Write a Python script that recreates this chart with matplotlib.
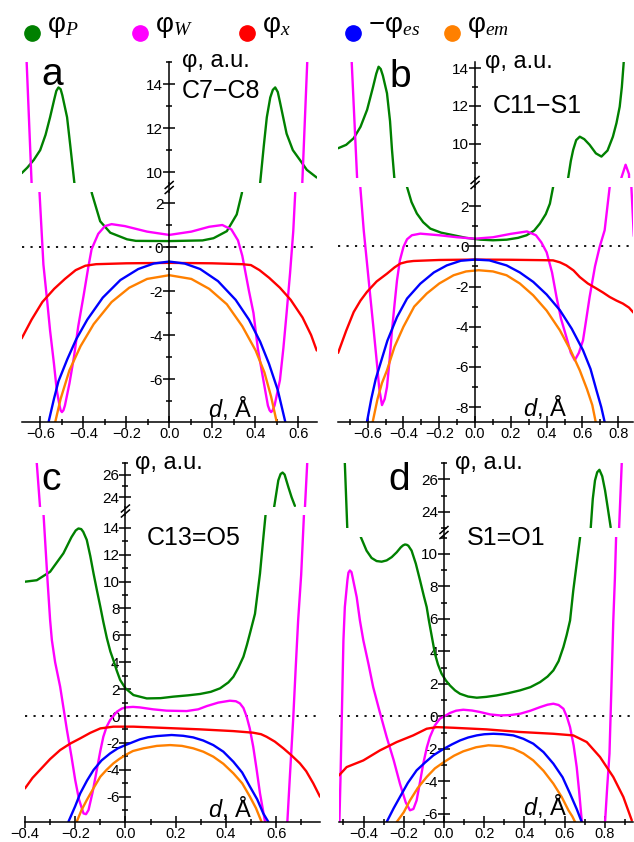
import matplotlib
matplotlib.use("Agg")
import matplotlib.pyplot as plt
from matplotlib.lines import Line2D
from matplotlib.ticker import MultipleLocator, FuncFormatter

plt.rcParams["font.family"] = ["Liberation Sans", "DejaVu Sans"]
plt.rcParams["mathtext.fontset"] = "custom"
plt.rcParams["mathtext.rm"] = "Liberation Sans"
plt.rcParams["mathtext.it"] = "Liberation Serif:italic"
plt.rcParams["mathtext.sf"] = "Liberation Sans:italic"

# ---------------- series names and colours ----------------
series_labels = [r"$\mathrm{φ}_{P}$", r"$\mathrm{φ}_{W}$", r"$\mathrm{φ}_{x}$",
                 r"$-\mathrm{φ}_{es}$", r"$\mathrm{φ}_{em}$"]
series_colors = ["#008000", "#ff00ff", "#ff0000", "#0000ff", "#ff8000"]
bond_names = ["C7\u2212C8", "C11\u2212S1", "C13=O5", "S1=O1"]
panel_letters = ["a", "b", "c", "d"]

# ---------------- panel a : C7-C8 ----------------
a_P_d = [-0.686, -0.66, -0.63, -0.60, -0.575, -0.554, -0.535, -0.525, -0.515, -0.505, -0.497,
         -0.475, -0.46, -0.441, -0.40, -0.36, -0.321, -0.274, -0.196, -0.155, 0.0, 0.155, 0.206,
         0.268, 0.314, 0.338, 0.38, 0.423, 0.44, 0.454, 0.47, 0.482, 0.493, 0.505, 0.515, 0.546,
         0.575, 0.608, 0.64, 0.686]
a_P_phi = [9.95, 10.2, 10.55, 11.0, 11.7, 12.5, 13.3, 13.7, 13.86, 13.78, 13.5,
           12.5, 11.2, 9.5, 6.0, 2.45, 1.17, 0.65, 0.35, 0.28, 0.27, 0.30, 0.40,
           0.72, 1.48, 2.45, 6.0, 9.5, 11.2, 12.5, 13.4, 13.75, 13.86, 13.65, 13.2, 11.75,
           11.0, 10.55, 10.1, 9.75]
a_W_d = [-0.665, -0.64, -0.603, -0.585, -0.567, -0.554, -0.536, -0.523, -0.51, -0.505, -0.499,
         -0.492, -0.485, -0.464, -0.443, -0.423, -0.398, -0.376, -0.361, -0.33, -0.299, -0.268,
         -0.206, -0.103, 0.0, 0.103, 0.186, 0.247, 0.289, 0.32, 0.34, 0.371, 0.392, 0.412,
         0.438, 0.459, 0.467, 0.474, 0.481, 0.49, 0.515, 0.531, 0.546, 0.562, 0.577, 0.586,
         0.619, 0.644]
a_W_phi = [15.5, 9.5, 2.45, -0.8, -2.5, -3.8, -5.3, -6.5, -7.2, -7.42, -7.5,
           -7.42, -7.2, -6.2, -5.0, -3.6, -2.2, -0.9, -0.1, 0.6, 0.95, 1.04,
           0.95, 0.7, 0.55, 0.7, 0.92, 1.0, 0.8, 0.3, -0.4, -2.0, -3.0, -4.6,
           -6.05, -7.2, -7.42, -7.5, -7.42, -7.2, -6.05, -4.6, -3.0, -1.2, 0.72, 2.45,
           9.5, 15.5]
a_x_d = [-0.686, -0.64, -0.59, -0.535, -0.485, -0.435, -0.39, -0.34, -0.2, 0.0, 0.2, 0.34,
         0.38, 0.42, 0.465, 0.515, 0.565, 0.62, 0.66, 0.686]
a_x_phi = [-4.15, -3.3, -2.5, -1.9, -1.45, -1.05, -0.85, -0.78, -0.74, -0.72, -0.74, -0.78,
           -0.82, -1.05, -1.4, -1.85, -2.4, -3.2, -4.0, -4.7]
a_es_d = [-0.561, -0.536, -0.515, -0.474, -0.433, -0.381, -0.309, -0.227, -0.144, -0.072, 0.0,
          0.072, 0.144, 0.227, 0.309, 0.371, 0.423, 0.464, 0.505, 0.54]
a_es_phi = [-7.95, -6.9, -6.1, -5.1, -4.2, -3.3, -2.3, -1.5, -1.0, -0.75, -0.66,
            -0.75, -1.0, -1.55, -2.4, -3.3, -4.3, -5.3, -6.5, -7.95]
a_em_d = [-0.53, -0.505, -0.464, -0.412, -0.351, -0.268, -0.186, -0.103, 0.0, 0.103, 0.186,
          0.268, 0.34, 0.402, 0.443, 0.474, 0.50]
a_em_phi = [-7.95, -6.9, -5.6, -4.5, -3.5, -2.5, -1.85, -1.45, -1.28, -1.45, -1.9,
            -2.6, -3.6, -4.7, -5.7, -6.8, -7.95]

# ---------------- panel b : C11-S1 ----------------
b_P_d = [-0.765, -0.72, -0.678, -0.64, -0.603, -0.57, -0.552, -0.539, -0.527, -0.515, -0.492,
         -0.475, -0.464, -0.451, -0.44, -0.39, -0.38, -0.355, -0.325, -0.29, -0.25, -0.19, -0.12,
         -0.05, 0.03, 0.10, 0.177, 0.24, 0.288, 0.33, 0.362, 0.395, 0.418, 0.436, 0.45, 0.51,
         0.52, 0.535, 0.548, 0.565, 0.585, 0.61, 0.64, 0.675, 0.706, 0.74, 0.77, 0.79, 0.808,
         0.82, 0.83, 0.835]
b_P_phi = [9.77, 9.95, 10.3, 10.9, 11.8, 13.0, 13.7, 14.07, 13.95, 13.6, 12.67,
           11.2, 9.68, 8.2, 7.0, 3.5, 2.95, 2.2, 1.63, 1.2, 0.88, 0.68, 0.55,
           0.42, 0.33, 0.30, 0.33, 0.42, 0.55, 0.78, 1.13, 1.6, 2.12, 2.95, 3.6, 7.5,
           8.2, 9.1, 9.68, 10.2, 10.38, 10.25, 9.95, 9.5, 9.33, 9.65, 10.38, 11.1, 11.96,
           13.0, 14.25, 15.0]
b_W_d = [-0.69, -0.659, -0.641, -0.622, -0.603, -0.585, -0.566, -0.548, -0.535, -0.52, -0.505,
         -0.492, -0.478, -0.464, -0.45, -0.436, -0.42, -0.40, -0.38, -0.353, -0.306, -0.2, -0.1,
         0.0, 0.1, 0.2, 0.29, 0.34, 0.37, 0.40, 0.43, 0.455, 0.48, 0.51, 0.535, 0.557, 0.58,
         0.603, 0.62, 0.64, 0.67, 0.696, 0.724, 0.752, 0.79, 0.817, 0.841, 0.86, 0.873, 0.887]
b_W_phi = [14.5, 8.2, 2.95, 0.8, -0.9, -2.52, -4.2, -5.84, -7.1, -7.9, -7.6,
           -7.0, -5.7, -4.18, -2.9, -1.69, -0.7, -0.03, 0.35, 0.55, 0.63, 0.55, 0.45,
           0.38, 0.45, 0.62, 0.74, 0.55, 0.2, -0.3, -1.3, -2.52, -3.6, -4.51, -5.3, -5.67, -5.3,
           -4.68, -3.7, -2.52, -1.0, -0.03, 0.8, 2.95, 6.5, 8.2, 8.9, 8.4, 3.0, 0.5]
b_x_d = [-0.765, -0.72, -0.678, -0.64, -0.604, -0.55, -0.492, -0.45, -0.418, -0.38, -0.344,
         -0.2, 0.0, 0.2, 0.38, 0.436, 0.475, 0.51, 0.55, 0.585, 0.63, 0.678, 0.715, 0.752,
         0.79, 0.826, 0.86, 0.885]
b_x_phi = [-5.3, -4.2, -3.27, -2.7, -2.27, -1.75, -1.36, -1.05, -0.86, -0.77, -0.73,
           -0.68, -0.66, -0.67, -0.69, -0.70, -0.8, -0.95, -1.2, -1.53, -1.85, -2.1, -2.3, -2.52,
           -2.7, -2.85, -3.05, -3.3]
b_es_d = [-0.604, -0.58, -0.555, -0.529, -0.49, -0.436, -0.38, -0.306, -0.23, -0.158, -0.08,
          0.0, 0.08, 0.176, 0.25, 0.325, 0.40, 0.474, 0.54, 0.603, 0.645, 0.678, 0.705, 0.724]
b_es_phi = [-8.74, -7.6, -6.6, -5.84, -4.7, -3.52, -2.6, -1.86, -1.3, -0.95, -0.72,
            -0.66, -0.70, -0.95, -1.3, -1.77, -2.4, -3.18, -4.1, -5.17, -6.1, -7.16, -8.0, -8.74]
b_em_d = [-0.572, -0.545, -0.52, -0.492, -0.45, -0.40, -0.34, -0.27, -0.20, -0.12, -0.05,
          0.02, 0.10, 0.176, 0.25, 0.325, 0.40, 0.474, 0.535, 0.585, 0.625, 0.655, 0.674]
b_em_phi = [-8.74, -7.6, -6.8, -6.17, -5.0, -4.0, -3.0, -2.35, -1.85, -1.44, -1.25,
            -1.19, -1.25, -1.44, -1.85, -2.44, -3.2, -4.18, -5.2, -6.17, -7.1, -7.9, -8.74]

# ---------------- panel c : C13=O5 ----------------
c_P_d = [-0.40, -0.353, -0.30, -0.247, -0.215, -0.198, -0.187, -0.176, -0.168, -0.154, -0.14,
         -0.127, -0.113, -0.10, -0.088, -0.074, -0.06, -0.048, -0.035, -0.021, 0.0, 0.032,
         0.085, 0.14, 0.19, 0.25, 0.297, 0.34, 0.377, 0.41, 0.43, 0.45, 0.47, 0.484, 0.496,
         0.516, 0.536, 0.548, 0.558, 0.575, 0.592, 0.609, 0.618, 0.626, 0.634, 0.649, 0.662,
         0.675]
c_P_phi = [9.99, 10.1, 10.73, 12.1, 13.3, 13.8, 13.95, 13.9, 13.7, 13.1, 11.9,
           10.6, 9.3, 8.13, 7.0, 5.8, 4.8, 4.16, 3.4, 2.68, 2.06, 1.56,
           1.31, 1.33, 1.44, 1.54, 1.64, 1.8, 2.06, 2.5, 2.92, 3.6, 4.41, 5.3, 6.15,
           7.6, 10.6, 13.0, 14.94, 19.0, 23.1, 25.5, 26.05, 26.18, 26.0, 24.9, 24.0,
           23.25]
c_W_d = [-0.36, -0.353, -0.34, -0.326, -0.31, -0.30, -0.293, -0.28, -0.26, -0.233, -0.215,
         -0.20, -0.185, -0.167, -0.157, -0.147, -0.13, -0.114, -0.10, -0.088, -0.075, -0.061,
         -0.034, -0.015, 0.0, 0.03, 0.058, 0.11, 0.164, 0.244, 0.29, 0.324, 0.37, 0.416, 0.44,
         0.456, 0.47, 0.483, 0.495, 0.509, 0.522, 0.536, 0.556, 0.60, 0.645, 0.655, 0.668,
         0.678, 0.688, 0.70, 0.711, 0.715, 0.724, 0.726]
c_W_phi = [28.0, 26.98, 23.1, 14.94, 10.0, 7.14, 5.65, 4.0, 2.18, -1.04, -3.0,
           -4.76, -6.2, -7.24, -7.3, -6.99, -5.6, -4.0, -2.6, -1.54, -0.8, -0.3,
           0.32, 0.55, 0.64, 0.68, 0.64, 0.5, 0.40, 0.37, 0.5, 0.74, 1.0, 1.14, 1.1,
           0.94, 0.6, -0.05, -0.9, -2.28, -3.9, -5.75, -7.86, -12.0, -7.86, -4.5, -0.3,
           3.5, 7.14, 10.5, 14.94, 23.1, 26.98, 28.0]
c_x_d = [-0.40, -0.37, -0.34, -0.30, -0.26, -0.22, -0.18, -0.14, -0.10, -0.048, 0.032, 0.164,
         0.297, 0.43, 0.509, 0.54, 0.562, 0.595, 0.629, 0.66, 0.695, 0.72, 0.748, 0.775]
c_x_phi = [-5.38, -4.6, -4.0, -3.2, -2.53, -2.05, -1.66, -1.25, -0.92, -0.79, -0.79, -0.89,
           -0.99, -1.12, -1.24, -1.35, -1.54, -1.9, -2.4, -2.9, -3.52, -4.1, -5.0, -6.0]
c_es_d = [-0.227, -0.20, -0.18, -0.153, -0.127, -0.095, -0.061, -0.03, 0.0, 0.058, 0.09,
          0.125, 0.184, 0.23, 0.27, 0.31, 0.35, 0.39, 0.43, 0.465, 0.496, 0.525, 0.549, 0.569]
c_es_phi = [-7.86, -6.7, -5.75, -4.8, -4.01, -3.3, -2.78, -2.4, -2.16, -1.73, -1.58,
            -1.49, -1.41, -1.47, -1.59, -1.82, -2.16, -2.65, -3.4, -4.2, -5.25, -6.2,
            -7.24, -7.86]
c_em_d = [-0.194, -0.175, -0.154, -0.125, -0.10, -0.075, -0.048, -0.025, 0.0, 0.03, 0.072,
          0.125, 0.178, 0.225, 0.27, 0.31, 0.35, 0.39, 0.43, 0.465, 0.496, 0.52, 0.542]
c_em_phi = [-7.86, -7.0, -6.25, -5.3, -4.51, -4.0, -3.52, -3.2, -2.9, -2.6, -2.4,
            -2.22, -2.16, -2.22, -2.4, -2.65, -3.02, -3.55, -4.26, -5.0, -6.0, -6.85, -7.86]

# ---------------- panel d : S1=O1 ----------------
d_P_d = [-0.495, -0.493, -0.481, -0.46, -0.44, -0.415, -0.385, -0.36, -0.335, -0.31, -0.285,
         -0.26, -0.235, -0.215, -0.204, -0.194, -0.185, -0.177, -0.161, -0.14, -0.119, -0.10,
         -0.086, -0.075, -0.061, -0.045, -0.03, -0.012, 0.01, 0.03, 0.055, 0.08, 0.12, 0.163,
         0.21, 0.262, 0.32, 0.378, 0.43, 0.478, 0.515, 0.544, 0.57, 0.594, 0.61, 0.627, 0.643,
         0.66, 0.677, 0.70, 0.73, 0.74, 0.751, 0.762, 0.773, 0.787, 0.801, 0.815, 0.829]
d_P_phi = [28.0, 27.0, 23.04, 17.0, 13.5, 11.08, 10.2, 9.75, 9.56, 9.52, 9.6,
           9.8, 10.1, 10.4, 10.52, 10.58, 10.56, 10.5, 10.2, 9.4, 8.37, 7.4,
           6.73, 5.9, 4.95, 3.86, 3.2, 2.63, 2.2, 1.9, 1.6, 1.39, 1.22, 1.15,
           1.2, 1.29, 1.43, 1.6, 1.8, 2.11, 2.45, 2.83, 3.4, 4.27, 5.0, 5.9, 7.75,
           9.4, 11.04, 17.0, 23.04, 24.8, 25.94, 26.45, 26.6, 26.2, 25.33, 24.2, 23.04]
d_W_d = [-0.522, -0.515, -0.508, -0.50, -0.493, -0.48, -0.475, -0.468, -0.46, -0.455, -0.434,
         -0.418, -0.401, -0.375, -0.352, -0.32, -0.285, -0.25, -0.219, -0.19, -0.169, -0.152,
         -0.136, -0.12, -0.103, -0.085, -0.07, -0.045, -0.02, 0.03, 0.06, 0.096, 0.14, 0.179,
         0.23, 0.279, 0.33, 0.378, 0.43, 0.478, 0.515, 0.544, 0.57, 0.594, 0.612, 0.627, 0.645,
         0.66, 0.672, 0.685, 0.69, 0.74, 0.795, 0.801, 0.812, 0.823, 0.832, 0.842, 0.85, 0.856,
         0.871, 0.884, 0.887]
d_W_phi = [-7.5, -4.0, 0.0, 4.68, 6.73, 8.4, 8.85, 8.98, 8.88, 8.6, 7.34,
           5.9, 4.68, 3.2, 1.8, 0.3, -1.27, -2.7, -4.14, -5.3, -5.78, -5.7,
           -5.17, -4.1, -2.91, -1.9, -1.27, -0.55, -0.14, 0.21, 0.35, 0.41, 0.36, 0.27,
           0.12, 0.06, 0.08, 0.16, 0.35, 0.57, 0.72, 0.78, 0.7, 0.47, -0.05, -0.66, -1.8,
           -3.12, -4.6, -6.4, -7.0, -11.0, -7.5, -6.5, -4.3, -2.3, 1.5, 5.9, 8.5, 11.04,
           23.04, 27.0, 28.0]
d_x_d = [-0.522, -0.484, -0.401, -0.318, -0.235, -0.153, -0.086, -0.036, 0.046, 0.212, 0.378,
         0.544, 0.643, 0.71, 0.776, 0.842, 0.892, 0.934]
d_x_phi = [-3.63, -3.12, -2.71, -2.09, -1.58, -1.17, -0.76, -0.66, -0.70, -0.80, -0.96,
           -1.07, -1.17, -1.58, -2.5, -3.73, -4.96, -6.4]
d_es_d = [-0.285, -0.25, -0.219, -0.18, -0.136, -0.095, -0.053, -0.025, 0.0, 0.04, 0.08,
          0.12, 0.163, 0.2, 0.245, 0.295, 0.345, 0.395, 0.444, 0.495, 0.544, 0.59, 0.627,
          0.66, 0.685]
d_es_phi = [-6.5, -5.65, -4.96, -4.1, -3.32, -2.85, -2.4, -2.18, -1.99, -1.72, -1.48,
            -1.3, -1.17, -1.1, -1.07, -1.1, -1.17, -1.38, -1.68, -2.2, -2.91, -3.75, -4.76,
            -5.7, -6.5]
d_em_d = [-0.235, -0.2, -0.169, -0.13, -0.086, -0.045, 0.0, 0.05, 0.096, 0.16, 0.221, 0.285,
          0.345, 0.395, 0.444, 0.495, 0.544, 0.585, 0.619, 0.638, 0.652]
d_em_phi = [-6.5, -5.9, -5.17, -4.4, -3.73, -3.2, -2.81, -2.42, -2.15, -1.9, -1.78, -1.83,
            -1.99, -2.28, -2.71, -3.35, -4.14, -4.95, -5.78, -6.15, -6.5]

panel_curves = [
    [(a_P_d, a_P_phi), (a_W_d, a_W_phi), (a_x_d, a_x_phi), (a_es_d, a_es_phi), (a_em_d, a_em_phi)],
    [(b_P_d, b_P_phi), (b_W_d, b_W_phi), (b_x_d, b_x_phi), (b_es_d, b_es_phi), (b_em_d, b_em_phi)],
    [(c_P_d, c_P_phi), (c_W_d, c_W_phi), (c_x_d, c_x_phi), (c_es_d, c_es_phi), (c_em_d, c_em_phi)],
    [(d_P_d, d_P_phi), (d_W_d, d_W_phi), (d_x_d, d_x_phi), (d_es_d, d_es_phi), (d_em_d, d_em_phi)],
]

# ---------------- layout (figure pixels, y measured from top) ----------------
W, H = 634, 842
layouts = [
    dict(box=(21.7, 62, 316.7, 422), gap=(183, 192), xlim=(-0.686, 0.686),
         ylo=(-7.95, 2.5), yhi=(9.5, 15.02),
         ylab=(182, 67), bond=(182, 98), dlab=(208, 417), letter=(52, 85)),
    dict(box=(338.3, 62, 633.3, 422), gap=(178, 187), xlim=(-0.764, 0.884),
         ylo=(-8.74, 2.95), yhi=(8.2, 14.32),
         ylab=(485, 68), bond=(493, 113), dlab=(523, 416), letter=(400, 87)),
    dict(box=(25, 463, 320, 822), gap=(507, 515), xlim=(-0.4, 0.775),
         ylo=(-7.88, 14.95), yhi=(23.15, 27.02),
         ylab=(135, 469), bond=(147, 545), dlab=(208, 817), letter=(51, 490)),
    dict(box=(339, 463, 633, 822), gap=(528, 537), xlim=(-0.522, 0.94),
         ylo=(-6.5, 11.04), yhi=(23.0, 27.02),
         ylab=(455, 469), bond=(467, 545), dlab=(523, 815), letter=(399, 490)),
]

fig = plt.figure(figsize=(W / 100, H / 100), dpi=100, facecolor="white")


def fx(x):
    return x / W


def fy(y):
    return 1 - y / H


def px_axes(left, top, right, bottom):
    return fig.add_axes([fx(left), fy(bottom), (right - left) / W, (bottom - top) / H])


yfmt = FuncFormatter(lambda v, p: f"{int(round(v))}")
xfmt = FuncFormatter(lambda v, p: f"{(v if abs(v) > 1e-9 else 0.0):.1f}".replace("-", "\u2212"))

for curves, lay, letter, bond in zip(panel_curves, layouts, panel_letters, bond_names):
    L, T, R, B = lay["box"]
    g0, g1 = lay["gap"]
    ax_hi = px_axes(L, T, R, g0)
    ax_lo = px_axes(L, g1, R, B)
    for ax, yl in ((ax_hi, lay["yhi"]), (ax_lo, lay["ylo"])):
        ax.set_xlim(*lay["xlim"])
        ax.set_ylim(*yl)
        ax.patch.set_alpha(0)
        ax.spines["top"].set_visible(False)
        ax.spines["right"].set_visible(False)
        ax.spines["left"].set_position(("data", 0))
        ax.spines["left"].set_linewidth(1.1)
        ax.spines["bottom"].set_linewidth(1.1)
        ax.yaxis.set_major_locator(MultipleLocator(2))
        ax.yaxis.set_minor_locator(MultipleLocator(1))
        ax.yaxis.set_major_formatter(yfmt)
        ax.tick_params(axis="y", which="major", direction="inout", length=8.5, width=1.1,
                       labelsize=11, pad=0)
        ax.tick_params(axis="y", which="minor", direction="inout", length=5, width=1.1)
        for (d, phi), col in zip(curves, series_colors):
            ax.plot(d, phi, color=col, lw=1.7, solid_joinstyle="round", solid_capstyle="round")
    ax_hi.spines["bottom"].set_visible(False)
    ax_hi.tick_params(axis="x", which="both", bottom=False, labelbottom=False)
    ax_lo.xaxis.set_major_locator(MultipleLocator(0.2))
    ax_lo.xaxis.set_minor_locator(MultipleLocator(0.1))
    ax_lo.xaxis.set_major_formatter(xfmt)
    ax_lo.tick_params(axis="x", which="major", direction="inout", length=8.5, width=1.1,
                      labelsize=10.5, pad=-1)
    ax_lo.tick_params(axis="x", which="minor", direction="inout", length=5, width=1.1)
    ax_lo.axhline(0, color="black", lw=1.3, ls=(0, (1.2, 3.5)), zorder=1)

    # axis break on the phi axis
    x0 = L + (0 - lay["xlim"][0]) / (lay["xlim"][1] - lay["xlim"][0]) * (R - L)
    yc = (g0 + g1) / 2
    fig.add_artist(Line2D([fx(x0), fx(x0)], [fy(g0), fy(g1)], transform=fig.transFigure,
                          color="black", lw=1.1))
    for s in (-2.5, 2.5):
        fig.add_artist(Line2D([fx(x0 - 4), fx(x0 + 4)], [fy(yc + s + 3.5), fy(yc + s - 3.5)],
                              transform=fig.transFigure, color="black", lw=1.1))

    # annotations
    fig.text(fx(lay["ylab"][0]), fy(lay["ylab"][1]), "φ, a.u.", fontsize=17, va="baseline")
    fig.text(fx(lay["bond"][0]), fy(lay["bond"][1]), bond, fontsize=18, va="baseline")
    fig.text(fx(lay["dlab"][0]), fy(lay["dlab"][1]), r"$\mathsf{d}$, Å", fontsize=17,
             va="baseline")
    fig.text(fx(lay["letter"][0]), fy(lay["letter"][1]), letter, fontsize=28, ha="center",
             va="baseline")

# legend row across the top
legend_x = [32, 140, 247, 353, 452]
for cx, lab, col in zip(legend_x, series_labels, series_colors):
    fig.add_artist(Line2D([fx(cx)], [fy(33)], transform=fig.transFigure, marker="o",
                          markersize=11, color=col, ls="none"))
    fig.text(fx(cx + 15), fy(32), lab, fontsize=20, va="baseline")

fig.savefig("out.png", dpi=100, facecolor="white")
